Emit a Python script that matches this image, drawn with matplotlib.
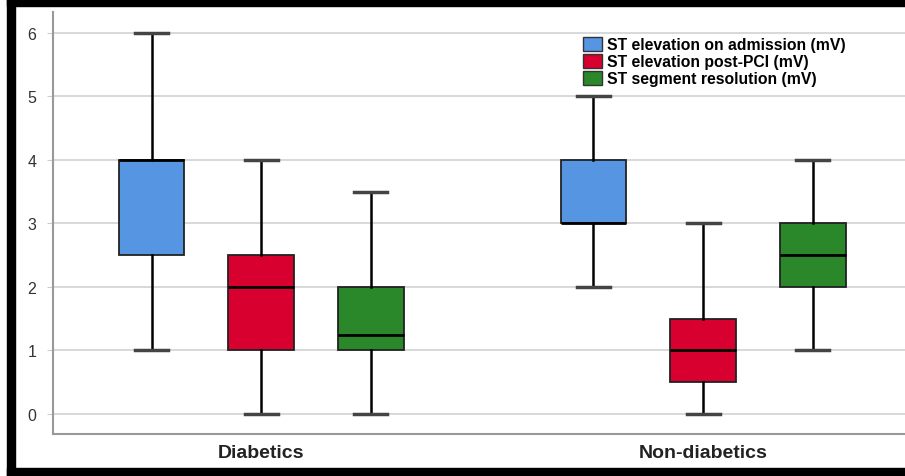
import numpy as np
import matplotlib
matplotlib.use("Agg")
import matplotlib.pyplot as plt
from matplotlib.patches import Patch, Rectangle

plt.rcParams['font.family'] = ['Liberation Sans', 'DejaVu Sans']

groups = ["Diabetics", "Non-diabetics"]
series = ["ST elevation on admission (mV)", "ST elevation post-PCI (mV)", "ST segment resolution (mV)"]
colors = ["#5595e2", "#d7002f", "#2a872a"]

# per series: [diabetics, non-diabetics]
whislo = [[1, 2], [0, 0], [0, 1]]
q1 = [[2.5, 3], [1, 0.5], [1, 2]]
med = [[4, 3], [2, 1], [1.25, 2.5]]
q3 = [[4, 4], [2.5, 1.5], [2, 3]]
whishi = [[6, 5], [4, 3], [3.5, 4]]

fig = plt.figure(figsize=(9.05, 4.77), dpi=100)
W, H = 905, 477
ax = fig.add_axes([53 / W, 1 - 435 / H, (905 - 53) / W, (435 - 13) / H])

offset = 0.248
width = 0.149
for s in range(3):
    stats = []
    pos = []
    for g in range(2):
        stats.append(dict(whislo=whislo[s][g], q1=q1[s][g], med=med[s][g],
                          q3=q3[s][g], whishi=whishi[s][g], fliers=[]))
        pos.append(g + 1 + (s - 1) * offset)
    ax.bxp(stats, positions=pos, widths=width, patch_artist=True, showfliers=False,
           boxprops=dict(facecolor=colors[s], edgecolor="#222222", linewidth=1.3),
           medianprops=dict(color="black", linewidth=2),
           whiskerprops=dict(color="black", linewidth=1.8),
           capprops=dict(color="#444444", linewidth=2.5), capwidths=width / 2)

ax.set_xlim(0.529, 2.457)
ax.set_ylim(-0.315, 6.33)
ax.set_yticks(range(7))
ax.set_xticks([1, 2])
ax.set_xticklabels(groups, fontsize=14, fontweight="bold", color="#222222")
ax.tick_params(axis="x", length=0, pad=7)
ax.tick_params(axis="y", length=4, color="#cccccc", labelsize=11.5, labelcolor="#333333", pad=8)
ax.grid(axis="y", color="#d6d6d6", linewidth=1.3)
ax.set_axisbelow(True)
for sp in ["top", "right"]:
    ax.spines[sp].set_visible(False)
for sp in ["left", "bottom"]:
    ax.spines[sp].set_color("#999999")
    ax.spines[sp].set_linewidth(1.5)

handles = [Patch(facecolor=c, edgecolor="#333333", linewidth=1) for c in colors]
ax.legend(handles, series, loc="upper left", bbox_to_anchor=(583 / W, 1 - 38 / H),
          bbox_transform=fig.transFigure, frameon=False, prop=dict(weight="bold", size=11.3),
          handlelength=1.2, handleheight=0.95, handletextpad=0.3, labelspacing=0.12,
          borderpad=0.0, borderaxespad=0.0)

# thick black frame on left, top and bottom
fig.add_artist(Rectangle((7 / W, 0), 8 / W, 1, transform=fig.transFigure, color="black", zorder=10))
fig.add_artist(Rectangle((7 / W, 1 - 7 / H), 1, 7 / H, transform=fig.transFigure, color="black", zorder=10))
fig.add_artist(Rectangle((7 / W, 0), 1, 8 / H, transform=fig.transFigure, color="black", zorder=10))

fig.savefig("out.png", dpi=100)
